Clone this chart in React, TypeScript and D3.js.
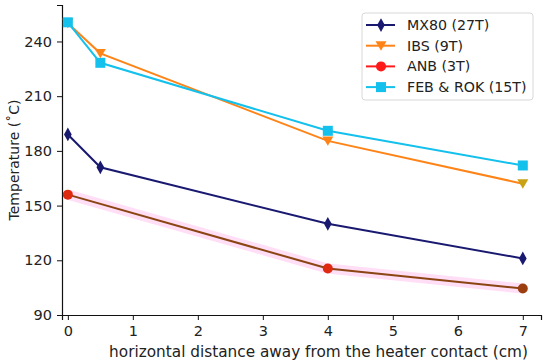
import * as d3 from 'd3';
import React, { useEffect, useRef } from 'react';

// distances from heater contact (cm)
const xMX80 = [0, 0.5, 4, 7];
const yMX80 = [189, 171, 140, 121];
const xIBS = [0, 0.5, 4, 7];
const yIBS = [250, 233.5, 185.5, 162];
const xANB = [0, 4, 7];
const yANB = [156, 115.5, 104.5];
const xFEB = [0, 0.5, 4, 7];
const yFEB = [250.5, 228.3, 191, 172];

const xTicks = [0, 1, 2, 3, 4, 5, 6, 7];
const yTicks = [90, 120, 150, 180, 210, 240];

const seriesNames = ['MX80 (27T)', 'IBS (9T)', 'ANB (3T)', 'FEB & ROK (15T)'];

const App = () => {
  const svgRef = useRef(null);

  useEffect(() => {
    const svg = d3.select(svgRef.current);
    svg.selectAll('*').remove();

    const left = 62;
    const right = 541;
    const top = 5;
    const bottom = 315;
    const font = 'DejaVu Sans, sans-serif';

    const x = d3.scaleLinear().domain([-0.09, 7.28]).range([left, right]);
    const y = d3.scaleLinear().domain([90, 260]).range([bottom, top]);

    //x axis
    const gx = svg
      .append('g')
      .attr('transform', `translate(0, ${bottom})`)
      .call(d3.axisBottom(x).tickValues(xTicks).tickSize(5).tickPadding(6).tickFormat(d3.format('d')));
    gx.select('.domain').attr('stroke', '#111').attr('stroke-width', 1.2);
    gx.selectAll('.tick line').attr('stroke', '#111').attr('stroke-width', 1);
    gx.selectAll('.tick text').attr('font-size', 14.5).attr('font-family', font).attr('fill', '#222');

    //y axis
    const gy = svg
      .append('g')
      .attr('transform', `translate(${left}, 0)`)
      .call(d3.axisLeft(y).tickValues(yTicks).tickSize(5).tickPadding(5));
    gy.select('.domain').attr('stroke', '#111').attr('stroke-width', 1.2);
    gy.selectAll('.tick line').attr('stroke', '#111').attr('stroke-width', 1);
    gy.selectAll('.tick text').attr('font-size', 14.5).attr('font-family', font).attr('fill', '#222');

    //axis labels
    svg
      .append('text')
      .attr('x', (left + right) / 2 + 17)
      .attr('y', 357)
      .attr('text-anchor', 'middle')
      .attr('font-size', 15.3)
      .attr('font-family', font)
      .attr('fill', '#222')
      .text('horizontal distance away from the heater contact (cm)');

    svg
      .append('text')
      .attr('transform', `translate(19, 160) rotate(-90)`)
      .attr('text-anchor', 'middle')
      .attr('font-size', 14)
      .attr('font-family', font)
      .attr('fill', '#222')
      .text('Temperature (˚C)');

    const makeLine = (xs, ys) =>
      d3.line()(xs.map((v, i) => [x(v), y(ys[i])]));

    //pink band behind ANB
    svg
      .append('path')
      .attr('d', makeLine(xANB, yANB))
      .attr('fill', 'none')
      .attr('stroke', '#ffd6f4')
      .attr('stroke-width', 10)
      .attr('opacity', 0.8);

    const symbols = {
      diamond: (cx, cy, s) => `M${cx},${cy - s * 1.25}L${cx + s * 0.7},${cy}L${cx},${cy + s * 1.25}L${cx - s * 0.7},${cy}Z`,
      tri: (cx, cy, s) => `M${cx - s},${cy - s * 0.8}L${cx + s},${cy - s * 0.8}L${cx},${cy + s * 0.9}Z`,
      square: (cx, cy, s) => `M${cx - s},${cy - s}h${2 * s}v${2 * s}h${-2 * s}Z`
    };

    const drawSeries = (xs, ys, color, marker, markerColors) => {
      svg
        .append('path')
        .attr('d', makeLine(xs, ys))
        .attr('fill', 'none')
        .attr('stroke', color)
        .attr('stroke-width', 2);
      xs.forEach((v, i) => {
        const mc = markerColors ? markerColors[i] : color;
        if (marker === 'circle') {
          svg.append('circle').attr('cx', x(v)).attr('cy', y(ys[i])).attr('r', 5).attr('fill', mc);
        } else {
          svg
            .append('path')
            .attr('d', symbols[marker](x(v), y(ys[i]), marker === 'square' ? 5 : 5.5))
            .attr('fill', mc);
        }
      });
    };

    drawSeries(xMX80, yMX80, '#191970', 'diamond');
    drawSeries(xANB, yANB, '#8b4513', 'circle', ['#dd2a10', '#dd2a10', '#9b3f10']);
    drawSeries(xIBS, yIBS, '#ff8418', 'tri', ['#ff8418', '#ff8418', '#ff8418', '#c9a213']);
    drawSeries(xFEB, yFEB, '#14c0ec', 'square');

    //legend
    const legend = svg.append('g');
    legend
      .append('rect')
      .attr('x', 362)
      .attr('y', 13)
      .attr('width', 171)
      .attr('height', 87)
      .attr('rx', 3)
      .attr('fill', 'white')
      .attr('stroke', '#d8d8d8');
    const legendColors = ['#191970', '#ff8418', '#ff1a1a', '#14c0ec'];
    const legendMarkers = ['diamond', 'tri', 'circle', 'square'];
    seriesNames.forEach((name, i) => {
      const ly = 25 + i * 20.7;
      legend
        .append('line')
        .attr('x1', 366)
        .attr('x2', 395)
        .attr('y1', ly)
        .attr('y2', ly)
        .attr('stroke', legendColors[i])
        .attr('stroke-width', 2);
      if (legendMarkers[i] === 'circle') {
        legend.append('circle').attr('cx', 381).attr('cy', ly).attr('r', 5).attr('fill', legendColors[i]);
      } else {
        legend
          .append('path')
          .attr('d', symbols[legendMarkers[i]](381, ly, legendMarkers[i] === 'square' ? 5 : 5.5))
          .attr('fill', legendColors[i]);
      }
      legend
        .append('text')
        .attr('x', 407)
        .attr('y', ly + 5)
        .attr('font-size', 14.2)
        .attr('font-family', font)
        .attr('fill', '#222')
        .text(name);
    });
  }, []);

  return (
    <svg
      ref={svgRef}
      width={550}
      height={362}
      style={{ position: 'absolute', left: 0, top: 0, background: 'white' }}
    ></svg>
  );
};

export default App;
